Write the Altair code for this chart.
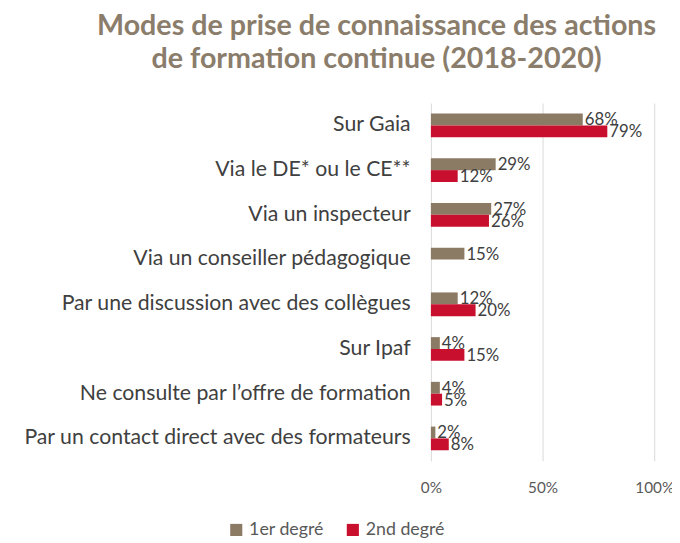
import altair as alt
import pandas as pd

categories = [
    "Sur Gaia",
    "Via le DE* ou le CE**",
    "Via un inspecteur",
    "Via un conseiller pédagogique",
    "Par une discussion avec des collègues",
    "Sur Ipaf",
    "Ne consulte par l’offre de formation",
    "Par un contact direct avec des formateurs",
]
series = ["1er degré", "2nd degré"]
v_1er = [68, 29, 27, 15, 12, 4, 4, 2]
v_2nd = [79, 12, 26, None, 20, 15, 5, 8]
x_ticks = [0, 0.5, 1.0]

rows = []
for c, a, b in zip(categories, v_1er, v_2nd):
    rows.append({"cat": c, "serie": series[0], "val": a / 100, "lab": f"{a}%"})
    if b is not None:
        rows.append({"cat": c, "serie": series[1], "val": b / 100, "lab": f"{b}%"})
df = pd.DataFrame(rows)

colors = ["#8C7B64", "#C8102E"]
FONT = "Lato"

y = alt.Y("cat:N", sort=categories, title=None,
          scale=alt.Scale(paddingInner=0.47, paddingOuter=0.235),
          axis=alt.Axis(labelFontSize=21.5, labelColor="#404040", labelPadding=21,
                        ticks=False, domain=False, labelLimit=500, labelFont=FONT))
yoff = alt.YOffset("serie:N", sort=series)
x = alt.X("val:Q", title=None,
          scale=alt.Scale(domain=[0, 1], nice=False),
          axis=alt.Axis(values=x_ticks, format=".0%", labelFontSize=15.5, labelColor="#595959",
                        ticks=False, domain=False, labelPadding=20, gridColor="#D9D9D9",
                        labelFlush=False, labelFont=FONT))

bars = alt.Chart(df).mark_bar().encode(
    y=y, yOffset=yoff, x=x,
    color=alt.Color("serie:N", sort=series,
                    scale=alt.Scale(domain=series, range=colors),
                    legend=alt.Legend(title=None, orient="none", direction="horizontal",
                                      legendX=-206, legendY=423, symbolType="square",
                                      symbolSize=150, labelFontSize=18, labelColor="#595959",
                                      labelFont=FONT, columnPadding=20,
                                      symbolStrokeWidth=0)),
)

labels = alt.Chart(df).mark_text(align="left", baseline="middle", dx=2, dy=1,
                                 fontSize=17, color="#404040", font=FONT).encode(
    y=alt.Y("cat:N", sort=categories), yOffset=yoff, x="val:Q", text="lab:N"
)

chart = alt.layer(bars, labels).properties(
    width=226, height=362,
    autosize=alt.AutoSizeParams(type="none"),
    padding={"left": 428, "top": 93, "right": 18, "bottom": 80},
    title=alt.TitleParams(
        ["Modes de prise de connaissance des actions", "de formation continue (2018-2020)"],
        fontSize=29, font=FONT, fontWeight="bold", color="#8B7D6B",
        anchor="middle", dx=-168, offset=29, lineHeight=34,
    ),
).configure_view(stroke=None)

chart.save("out.html", embed_options={"renderer": "svg", "actions": False})
